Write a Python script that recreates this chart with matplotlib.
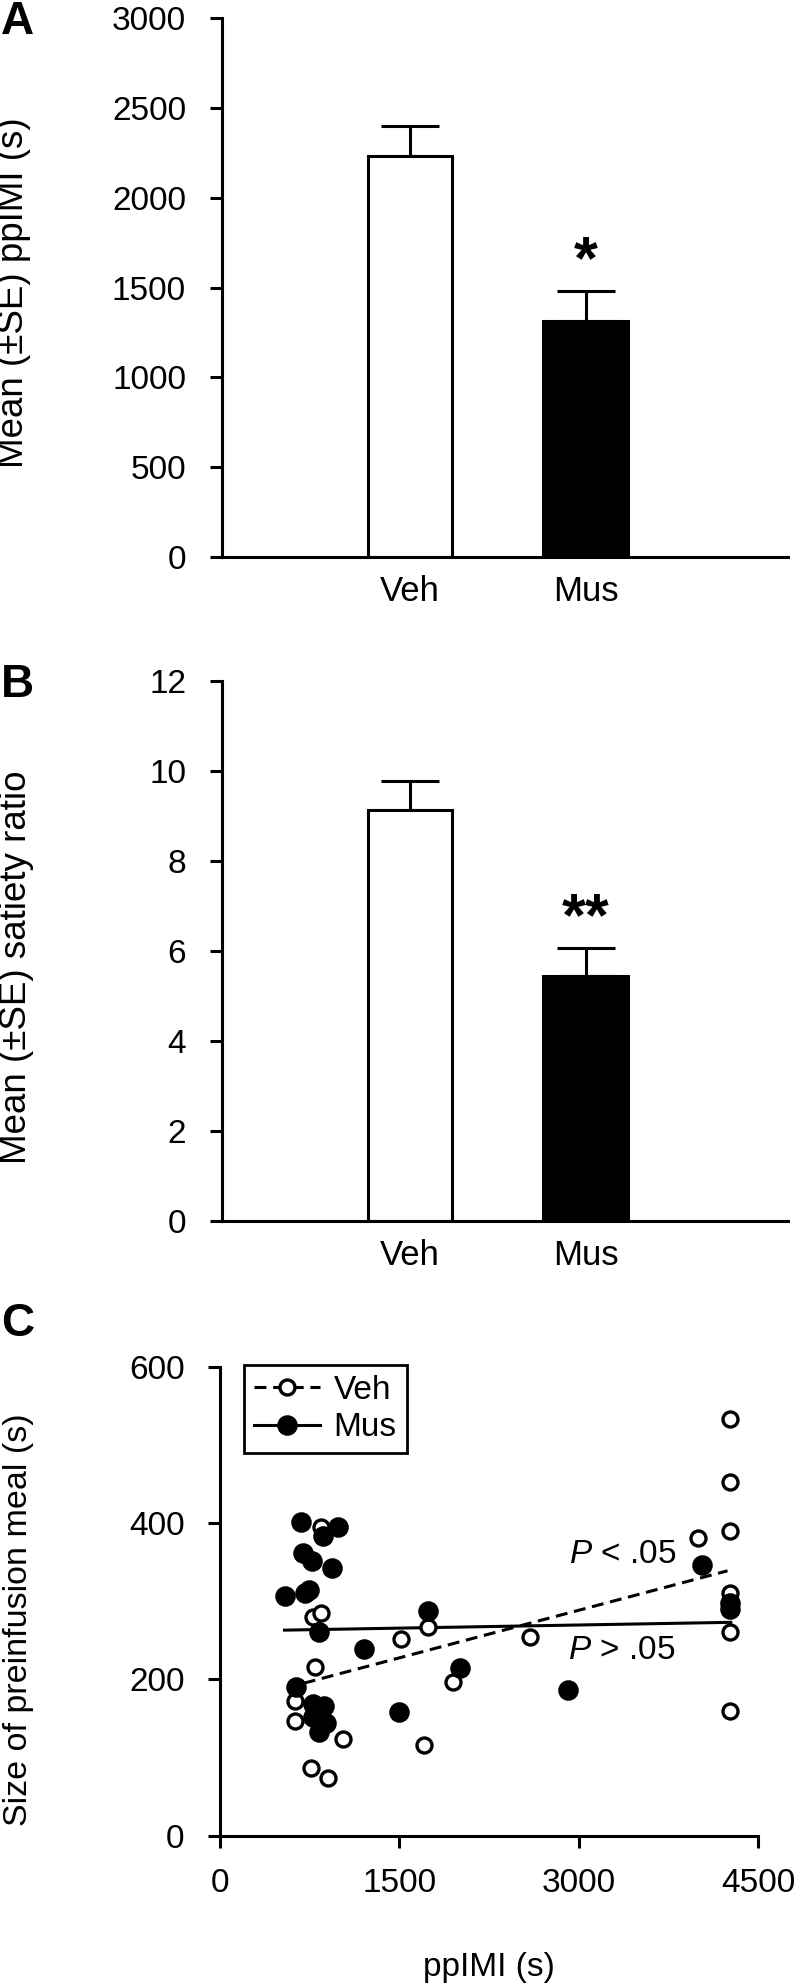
import matplotlib
matplotlib.use('Agg')
import matplotlib.pyplot as plt
from matplotlib.lines import Line2D

plt.rcParams['font.family'] = ['Liberation Sans', 'DejaVu Sans']
plt.rcParams['mathtext.fontset'] = 'custom'
plt.rcParams['mathtext.rm'] = 'Liberation Sans'
plt.rcParams['mathtext.it'] = 'Liberation Sans:italic'

# Panel A / B data
groups = ['Veh', 'Mus']
ppimi_mean = [2234, 1316]
ppimi_se = [167, 165]
satiety_mean = [9.13, 5.45]
satiety_se = [0.64, 0.62]

# Panel C data: ppIMI (s) vs size of preinfusion meal (s)
veh_x = [4265, 4265, 4265, 4002, 4265, 4265, 4265, 2597, 1736, 1511, 1948,
         1710, 1030, 760, 900, 630, 624, 797, 781, 845, 845]
veh_y = [534, 453, 390, 381, 310, 260, 159, 254, 267, 252, 196,
         116, 124, 87, 73, 146, 172, 216, 280, 285, 395]
mus_x = [681, 990, 861, 691, 771, 938, 746, 710, 546, 829, 1205, 1742,
         2009, 1495, 2909, 4034, 4265, 4265, 638, 774, 870, 780, 884, 829]
mus_y = [401, 395, 384, 362, 351, 343, 314, 310, 307, 260, 239, 288,
         214, 158, 186, 346, 298, 290, 190, 168, 166, 152, 144, 132]
veh_fit_x = [700, 4245]
veh_fit_y = [195, 339]
mus_fit_x = [540, 4272]
mus_fit_y = [263, 273]

W, H = 800, 1984
fig = plt.figure(figsize=(W / 100, H / 100), dpi=100)


def box(left, top, right, bottom):
    return [left / W, 1 - bottom / H, (right - left) / W, (bottom - top) / H]


def style_axes(ax):
    for s in ['top', 'right']:
        ax.spines[s].set_visible(False)
    for s in ['left', 'bottom']:
        ax.spines[s].set_linewidth(2.2)
    ax.tick_params(axis='both', direction='out', length=8.5, width=2.2,
                   labelsize=24, pad=17)


def bar_panel(ax, means, ses, ylim, yticks, star, star_y, ylabel, lx, ly):
    pos = [1, 2]
    ax.bar(pos, means, width=0.48, color=['white', 'black'], edgecolor='black',
           linewidth=2.2, zorder=2)
    ax.errorbar(pos, means, yerr=[[0, 0], ses], fmt='none', ecolor='black',
                elinewidth=2.2, capsize=21, capthick=2.2, zorder=1)
    ax.set_xlim(-0.07, 3.15)
    ax.set_ylim(*ylim)
    ax.set_yticks(yticks)
    ax.set_xticks(pos)
    ax.set_xticklabels(groups)
    style_axes(ax)
    ax.tick_params(axis='x', length=0, pad=13, labelsize=25)
    ax.text(2, star_y, star, ha='center', va='baseline', fontsize=44,
            fontweight='bold')
    ax.set_ylabel(ylabel, fontsize=26.5)
    ax.yaxis.set_label_coords(lx, ly)


axA = fig.add_axes(box(221.5, 18, 788, 557))
bar_panel(axA, ppimi_mean, ppimi_se, (0, 3000), range(0, 3001, 500), '*',
          1550, 'Mean (\u00b1SE) ppIMI (s)', -0.336, 0.49)

axB = fig.add_axes(box(221.5, 681, 788, 1221))
bar_panel(axB, satiety_mean, satiety_se, (0, 12), range(0, 13, 2), '**',
          6.36, 'Mean (\u00b1SE) satiety ratio', -0.331, 0.47)

axC = fig.add_axes(box(220, 1367, 758, 1835.5))
axC.plot(veh_fit_x, veh_fit_y, color='black', lw=2.2, dashes=(3.9, 2.2), zorder=2)
axC.plot(mus_fit_x, mus_fit_y, color='black', lw=2.2, zorder=2)
axC.plot(veh_x, veh_y, 'o', ms=10.8, mfc='white', mec='black', mew=2.4,
         zorder=3, clip_on=False)
axC.plot(mus_x, mus_y, 'o', ms=12.6, mfc='black', mec='black', mew=2.2,
         zorder=4, clip_on=False)
axC.set_xlim(0, 4500)
axC.set_ylim(0, 600)
axC.set_xticks([0, 1500, 3000, 4500])
axC.set_yticks([0, 200, 400, 600])
style_axes(axC)
axC.tick_params(axis='x', pad=15)
axC.set_xlabel('ppIMI (s)', fontsize=24, labelpad=38)
axC.set_ylabel('Size of preinfusion meal (s)', fontsize=24.5)
axC.yaxis.set_label_coords(-0.345, 0.46)
axC.text(2920, 360, '$P$ < .05', fontsize=24, va='center')
axC.text(2910, 237, '$P$ > .05', fontsize=24, va='center')

handles = [
    Line2D([], [], color='black', lw=2.2, dashes=(3.9, 2.2), marker='o',
           ms=10.8, mfc='white', mec='black', mew=2.4),
    Line2D([], [], color='black', lw=2.2, marker='o', ms=12.6,
           mfc='black', mec='black', mew=2.2),
]
leg = axC.legend(handles, groups, loc='upper left', bbox_to_anchor=(0.044, 1.005),
                 borderaxespad=0, fontsize=24, frameon=True, fancybox=False,
                 edgecolor='black', framealpha=1, handlelength=2.0,
                 handletextpad=0.4, borderpad=0.3, labelspacing=0.2,
                 numpoints=1)
leg.get_frame().set_linewidth(2)

for letter, y in [('A', 22), ('B', 685), ('C', 1324)]:
    fig.text(1 / W, 1 - y / H, letter, fontsize=33, fontweight='bold',
             ha='left', va='center')

fig.savefig('out.png', dpi=100)
